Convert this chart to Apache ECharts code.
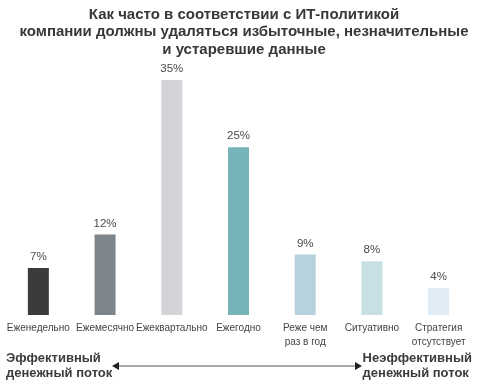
<!DOCTYPE html>
<html><head><meta charset="utf-8">
<script src="https://cdn.jsdelivr.net/npm/echarts@6/dist/echarts.min.js"></script>
<style>html,body{margin:0;padding:0;background:#fff}#c{width:488px;height:391px}</style>
</head><body><div id="c"></div>
<script>
var categories = ['Еженедельно','Ежемесячно','Ежеквартально','Ежегодно','Реже чем\nраз в год','Ситуативно','Стратегия\nотсутствует'];
var values = [7, 12, 35, 25, 9, 8, 4];
var barColors = ['#3b3b3d','#7d848a','#d3d4d7','#76b4b9','#b7d2de','#c8e0e4','#e0ecf6'];
var titleText = 'Как часто в соответствии с ИТ-политикой\nкомпании должны удаляться избыточные, незначительные\nи устаревшие данные';
var leftNote = 'Эффективный\nденежный поток';
var rightNote = 'Неэффективный\nденежный поток';

var chart = echarts.init(document.getElementById('c'), null, {renderer:'canvas'});
chart.setOption({
  animation:false,
  title:{text:titleText,left:'center',top:1,textStyle:{fontFamily:'Liberation Sans, Arial',fontSize:15,fontWeight:'bold',color:'#383838',lineHeight:17.5}},
  grid:{left:5,right:16,top:80,bottom:76,containLabel:false},
  xAxis:{type:'category',data:categories,axisLine:{show:false},axisTick:{show:false},
    axisLabel:{interval:0,fontFamily:'Liberation Sans, Arial',fontSize:10,color:'#444',margin:6,lineHeight:14}},
  yAxis:{type:'value',min:0,max:35,show:false},
  series:[{type:'bar',barWidth:21,
    data:values.map(function(v,i){return {value:v,itemStyle:{color:barColors[i]}};}),
    label:{show:true,position:'top',distance:5,formatter:'{c}%',fontFamily:'Liberation Sans, Arial',fontSize:11.5,color:'#4a4a4a'}}],
  graphic:[
    {type:'text',left:6,top:351,style:{text:leftNote,font:'bold 13px "Liberation Sans", Arial',fill:'#3c3c3c',lineHeight:15}},
    {type:'text',right:16,top:351,style:{text:rightNote,font:'bold 13px "Liberation Sans", Arial',fill:'#3c3c3c',lineHeight:15,align:'right'}},
    {type:'line',shape:{x1:118,y1:366,x2:356,y2:366},style:{stroke:'#555',lineWidth:1}},
    {type:'polygon',shape:{points:[[112,366],[119,362],[119,370]]},style:{fill:'#222'}},
    {type:'polygon',shape:{points:[[362,366],[355,362],[355,370]]},style:{fill:'#222'}}
  ]
});
</script></body></html>
